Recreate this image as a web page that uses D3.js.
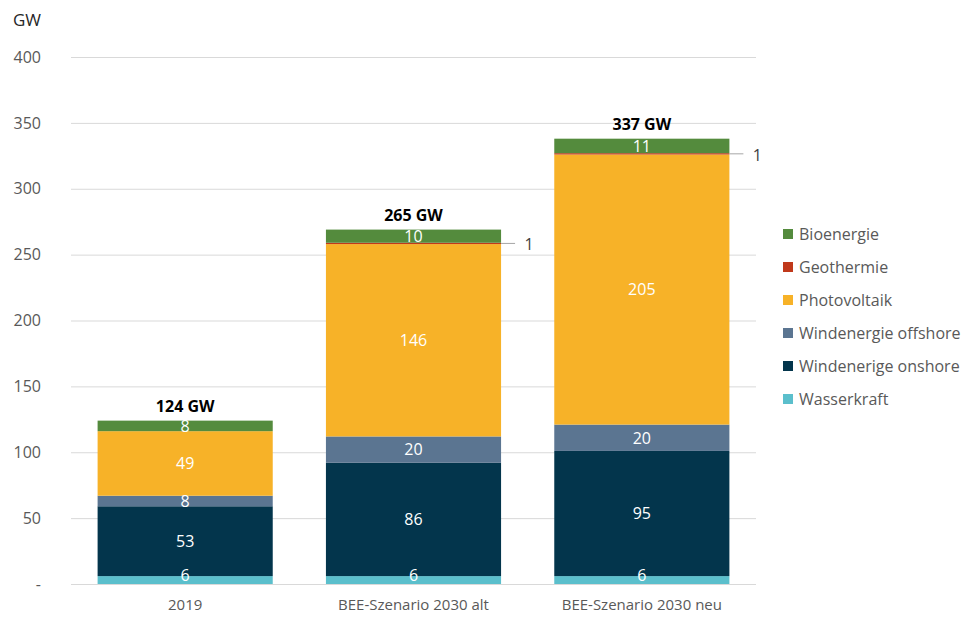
<!DOCTYPE html>
<html>
<head>
<meta charset="utf-8">
<script src="https://cdn.jsdelivr.net/npm/d3@7"></script>
<style>
  body { margin: 0; background: #fff; }
  svg { display: block; font-family: 'Open Sans', sans-serif; }
</style>
</head>
<body>
<div id="chart"></div>
<script>
// categories on the x axis
var scenarios = ['2019', 'BEE-Szenario 2030 alt', 'BEE-Szenario 2030 neu']
// stack order, bottom to top
var sources = ['Wasserkraft', 'Windenerige onshore', 'Windenergie offshore', 'Photovoltaik', 'Geothermie', 'Bioenergie']
var colors = ['#5bbfcc', '#03354c', '#5b7591', '#f7b228', '#c0391b', '#548b3d']
// values per source, one per scenario (GW)
var wasserkraft = [6, 6, 6]
var onshore = [53, 86, 95]
var offshore = [8, 20, 20]
var photovoltaik = [49, 146, 205]
var geothermie = [0, 1, 1]
var bioenergie = [8, 10, 11]
var totals = ['124 GW', '265 GW', '337 GW']
var yTicks = [0, 50, 100, 150, 200, 250, 300, 350, 400]

var series = [wasserkraft, onshore, offshore, photovoltaik, geothermie, bioenergie]
var rows = scenarios.map(function(s, i) {
  var r = { name: s }
  sources.forEach(function(src, k) { r[src] = series[k][i] })
  return r
})

var width = 975
var height = 628
var margin = { top: 57, right: 219, bottom: 44, left: 71 }
var innerW = width - margin.left - margin.right
var innerH = height - margin.top - margin.bottom

var svg = d3.select('#chart')
  .append('svg')
  .attr('width', width)
  .attr('height', height)

var g = svg.append('g')
  .attr('transform', 'translate(' + margin.left + ',' + margin.top + ')')

var x = d3.scaleBand().domain(scenarios).range([0, innerW]).paddingInner(0.233).paddingOuter(0.1165)
var y = d3.scaleLinear().domain([0, 400]).range([innerH, 0])

// grid
g.append('g')
  .selectAll('line')
  .data(yTicks)
  .enter()
  .append('line')
  .attr('x1', 0)
  .attr('x2', innerW)
  .attr('y1', function(d) { return y(d) + 0.5 })
  .attr('y2', function(d) { return y(d) + 0.5 })
  .attr('stroke', '#d9d9d9')
  .attr('stroke-width', 1)

// y axis labels
var yAxis = d3.axisLeft(y)
  .tickValues(yTicks)
  .tickSize(0)
  .tickPadding(30)
  .tickFormat(function(d) { return d === 0 ? '-' : d })
g.append('g')
  .call(yAxis)
  .call(function(a) { a.select('.domain').remove() })
  .selectAll('text')
  .attr('font-family', "'Open Sans', sans-serif")
  .attr('font-size', '16px')
  .attr('fill', '#595959')

svg.append('text')
  .attr('x', 13)
  .attr('y', 26)
  .attr('font-size', '17px')
  .attr('fill', '#262626')
  .text('GW')

// x axis labels
var xAxis = d3.axisBottom(x).tickSize(0).tickPadding(15)
g.append('g')
  .attr('transform', 'translate(0,' + innerH + ')')
  .call(xAxis)
  .call(function(a) { a.select('.domain').remove() })
  .selectAll('text')
  .attr('font-family', "'Open Sans', sans-serif")
  .attr('font-size', '15px')
  .attr('fill', '#595959')

// stacked bars
var stack = d3.stack().keys(sources)(rows)

g.selectAll('.layer')
  .data(stack)
  .enter()
  .append('g')
  .attr('class', 'layer')
  .attr('fill', function(d, i) { return colors[i] })
  .selectAll('rect')
  .data(function(d) { return d })
  .enter()
  .append('rect')
  .attr('x', function(d) { return x(d.data.name) })
  .attr('width', x.bandwidth())
  .attr('y', function(d) { return y(d[1]) })
  .attr('height', function(d) { return y(d[0]) - y(d[1]) })

// value labels inside segments (except geothermie), drawn over all bars, kept above the axis
var labelData = []
stack.forEach(function(s) {
  if (s.key === 'Geothermie') return
  s.forEach(function(p) { labelData.push({ p: p, key: s.key }) })
})
g.append('g')
  .selectAll('text')
  .data(labelData)
  .enter()
  .append('text')
  .attr('x', function(d) { return x(d.p.data.name) + x.bandwidth() / 2 })
  .attr('y', function(d) { return Math.min((y(d.p[0]) + y(d.p[1])) / 2, innerH - 9) })
  .attr('dy', '0.36em')
  .attr('text-anchor', 'middle')
  .attr('font-size', '16px')
  .attr('fill', '#fff')
  .text(function(d) { return d.p.data[d.key] })

// geothermie labels with leader line
var geo = stack[sources.indexOf('Geothermie')].filter(function(p) { return p.data.Geothermie > 0 })
geo.forEach(function(p) {
  var xr = x(p.data.name) + x.bandwidth()
  var yc = (y(p[0]) + y(p[1])) / 2
  g.append('line')
    .attr('x1', xr)
    .attr('x2', xr + 14)
    .attr('y1', yc)
    .attr('y2', yc)
    .attr('stroke', '#a6a6a6')
    .attr('stroke-width', 1)
  g.append('text')
    .attr('x', xr + 28)
    .attr('y', yc + 1)
    .attr('dy', '0.36em')
    .attr('text-anchor', 'middle')
    .attr('font-size', '16px')
    .attr('fill', '#404040')
    .text(p.data.Geothermie)
})

// totals above each bar
var topLayer = stack[stack.length - 1]
g.selectAll('.total')
  .data(topLayer)
  .enter()
  .append('text')
  .attr('class', 'total')
  .attr('x', function(d) { return x(d.data.name) + x.bandwidth() / 2 })
  .attr('y', function(d) { return y(d[1]) - 9 })
  .attr('text-anchor', 'middle')
  .attr('font-size', '16px')
  .attr('font-weight', 'bold')
  .attr('fill', '#000')
  .text(function(d, i) { return totals[i] })

// legend, top to bottom in reverse stack order
var legendItems = sources.slice().reverse()
var legend = svg.append('g')
  .attr('transform', 'translate(783,234)')
var item = legend.selectAll('g')
  .data(legendItems)
  .enter()
  .append('g')
  .attr('transform', function(d, i) { return 'translate(0,' + i * 33 + ')' })
item.append('rect')
  .attr('x', 0)
  .attr('y', -5)
  .attr('width', 10)
  .attr('height', 10)
  .attr('fill', function(d) { return colors[sources.indexOf(d)] })
item.append('text')
  .attr('x', 16)
  .attr('y', 0)
  .attr('dy', '0.36em')
  .attr('font-size', '16px')
  .attr('fill', '#595959')
  .text(function(d) { return d })
</script>
</body>
</html>
